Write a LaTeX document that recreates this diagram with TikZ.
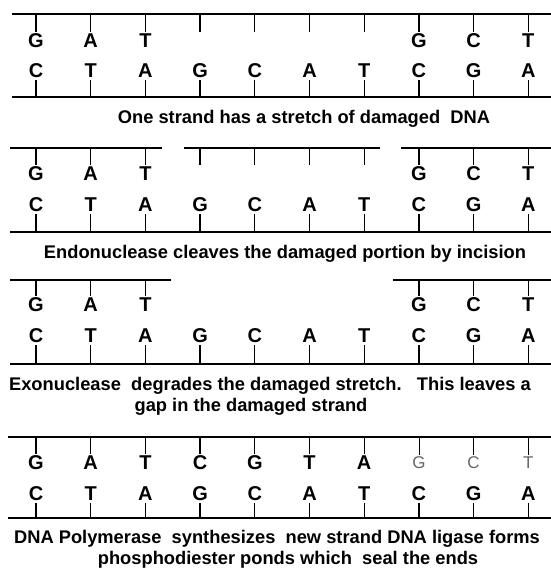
\documentclass[tikz,border=0pt]{standalone}
\usepackage{fontspec}
\setmainfont{Liberation Sans}
\begin{document}
\begin{tikzpicture}[x=1pt,y=-1pt,
    base/.style={font=\bfseries\fontsize{20}{20}\selectfont, inner sep=0pt},
    strand/.style={line width=1.5pt},
    tick/.style={line width=1.3pt, shorten >=2pt},
    caption/.style={font=\bfseries\fontsize{18.3}{20}\selectfont, inner sep=0pt}]
    \useasboundingbox (0,0) rectangle (551,574);
    % Panel 1: intact duplex with damaged stretch
    \coordinate (t1L) at (12,14);
    \coordinate (t1R) at (551,14);
    \coordinate (b1L) at (12,97);
    \coordinate (b1R) at (551,97);
    \draw[strand] (t1L) -- (t1R);
    \draw[strand] (b1L) -- (b1R);
    \foreach \b [count=\i] in {G,A,T,\vphantom{G},\vphantom{G},\vphantom{G},\vphantom{G},G,C,T} {
        \node[base] (top1-\i) at ({36+54.7*(\i-1)},41) {\b};
        \draw[tick] (top1-\i.north |- t1L) -- (top1-\i.north);
    }
    \foreach \b [count=\i] in {C,T,A,G,C,A,T,C,G,A} {
        \node[base] (bot1-\i) at ({36+54.7*(\i-1)},71) {\b};
        \draw[tick] (bot1-\i.south |- b1L) -- (bot1-\i.south);
    }
    \node[caption] (cap1) at (304,119) {One strand has a stretch of damaged\ \ DNA};
    % Panel 2: incision on both sides of the damage
    \coordinate (t2aL) at (10,148);
    \coordinate (t2aR) at (162,148);
    \coordinate (t2bL) at (184,148);
    \coordinate (t2bR) at (380,148);
    \coordinate (t2cL) at (401,148);
    \coordinate (t2cR) at (551,148);
    \coordinate (b2L) at (10,232);
    \coordinate (b2R) at (551,232);
    \draw[strand] (t2aL) -- (t2aR);
    \draw[strand] (t2bL) -- (t2bR);
    \draw[strand] (t2cL) -- (t2cR);
    \draw[strand] (b2L) -- (b2R);
    \foreach \b [count=\i] in {G,A,T,\vphantom{G},\vphantom{G},\vphantom{G},\vphantom{G},G,C,T} {
        \node[base] (top2-\i) at ({36+54.7*(\i-1)},174) {\b};
        \draw[tick] (top2-\i.north |- t2aL) -- (top2-\i.north);
    }
    \foreach \b [count=\i] in {C,T,A,G,C,A,T,C,G,A} {
        \node[base] (bot2-\i) at ({36+54.7*(\i-1)},205) {\b};
        \draw[tick] (bot2-\i.south |- b2L) -- (bot2-\i.south);
    }
    \node[caption] (cap2) at (285,254) {Endonuclease cleaves the damaged portion by incision};
    % Panel 3: gap left after excision
    \coordinate (t3aL) at (10,280);
    \coordinate (t3aR) at (171,280);
    \coordinate (t3bL) at (393,280);
    \coordinate (t3bR) at (551,280);
    \coordinate (b3L) at (10,364);
    \coordinate (b3R) at (551,364);
    \draw[strand] (t3aL) -- (t3aR);
    \draw[strand] (t3bL) -- (t3bR);
    \draw[strand] (b3L) -- (b3R);
    \foreach \i/\b in {1/G,2/A,3/T,8/G,9/C,10/T} {
        \node[base] (top3-\i) at ({36+54.7*(\i-1)},305) {\b};
        \draw[tick] (top3-\i.north |- t3aL) -- (top3-\i.north);
    }
    \foreach \b [count=\i] in {C,T,A,G,C,A,T,C,G,A} {
        \node[base] (bot3-\i) at ({36+54.7*(\i-1)},336) {\b};
        \draw[tick] (bot3-\i.south |- b3L) -- (bot3-\i.south);
    }
    \node[caption] (cap3a) at (270,386) {Exonuclease\ \ degrades the damaged stretch.\ \ \ This leaves a};
    \node[caption] (cap3b) at (251,407) {gap in the damaged strand};
    % Panel 4: gap filled and sealed
    \coordinate (t4L) at (8,437);
    \coordinate (t4R) at (551,437);
    \coordinate (b4L) at (8,518);
    \coordinate (b4R) at (551,518);
    \draw[strand] (t4L) -- (t4R);
    \draw[strand] (b4L) -- (b4R);
    \foreach \b [count=\i] in {G,A,T,C,G,T,A} {
        \node[base] (top4-\i) at ({36+54.7*(\i-1)},463) {\b};
        \draw[tick] (top4-\i.north |- t4L) -- (top4-\i.north);
    }
    \foreach \b [count=\i from 8] in {G,C,T} {
        \node[base, font=\fontsize{17}{17}\selectfont, text=black!60] (top4-\i) at ({36+54.7*(\i-1)},463) {\b};
        \draw[tick, line width=0.8pt] (top4-\i.north |- t4L) -- (top4-\i.north);
    }
    \foreach \b [count=\i] in {C,T,A,G,C,A,T,C,G,A} {
        \node[base] (bot4-\i) at ({36+54.7*(\i-1)},494) {\b};
        \draw[tick] (bot4-\i.south |- b4L) -- (bot4-\i.south);
    }
    \node[caption] (cap4a) at (277,539) {DNA Polymerase\ \ synthesizes\ \ new strand DNA ligase forms};
    \node[caption] (cap4b) at (288,560) {phosphodiester ponds which\ \ seal the ends};
\end{tikzpicture}
\end{document}
